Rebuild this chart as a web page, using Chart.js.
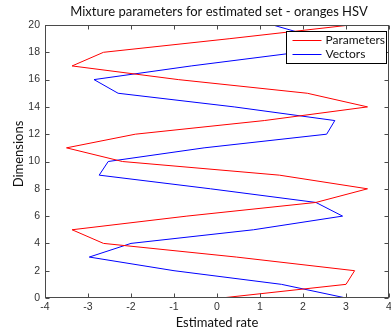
<!DOCTYPE html>
<html><head><meta charset="utf-8">
<script src="https://cdn.jsdelivr.net/npm/chart.js@4.4.1/dist/chart.umd.min.js"></script>
<style>
html,body{margin:0;padding:0;background:#fff;overflow:hidden;width:391px;height:335px}
#wrap{position:relative;width:400px;height:335px}
canvas{display:block}
</style></head><body>
<div id="wrap"><canvas id="c" width="400" height="335"></canvas></div>
<script>
const chartTitle = 'Mixture parameters for estimated set - oranges HSV';
const xTitle = 'Estimated rate';
const yTitle = 'Dimensions';
const dimensions = [0,1,2,3,4,5,6,7,8,9,10,11,12,13,14,15,16,17,18,19,20];
const parameters = [0.1,3.0,3.2,0.45,-2.64,-3.37,-0.7,2.3,3.5,1.45,-2.2,-3.5,-1.9,1.1,3.5,2.1,-0.9,-3.37,-2.64,0.3,3.1];
const vectors = [3.0,1.5,-1.0,-2.97,-2.0,0.85,2.92,2.3,-0.15,-2.74,-2.53,-0.3,2.55,2.74,0.4,-2.3,-2.86,-0.6,1.9,2.4,1.3];
const xTicks = [-4,-3,-2,-1,0,1,2,3,4];
const yTicks = [0,2,4,6,8,10,12,14,16,18,20];
const seriesNames = ['Parameters','Vectors'];
const seriesColors = ['#ff0000','#0000ff'];

const matlabPlugin = {
  id: 'matlab',
  afterDraw(chart) {
    const {ctx, chartArea: a, scales: {x, y}} = chart;
    ctx.save();
    // box
    const L = Math.round(a.left) + 0.5, R = Math.round(a.right) - 0.5;
    const T = Math.round(a.top) + 0.5, B = Math.round(a.bottom) - 0.5;
    ctx.strokeStyle = '#4a4a4a';
    ctx.lineWidth = 1;
    ctx.strokeRect(L, T, R - L, B - T);
    ctx.beginPath();
    x.ticks.forEach(t => {
      const p = Math.round(x.getPixelForValue(t.value)) + 0.5;
      ctx.moveTo(p, B); ctx.lineTo(p, B - 4);
      ctx.moveTo(p, T); ctx.lineTo(p, T + 4);
    });
    y.ticks.forEach(t => {
      const p = Math.round(y.getPixelForValue(t.value)) + 0.5;
      ctx.moveTo(L, p); ctx.lineTo(L + 4, p);
      ctx.moveTo(R, p); ctx.lineTo(R - 4, p);
    });
    ctx.stroke();
    // title
    ctx.fillStyle = '#111';
    ctx.font = '13px Lato';
    ctx.textAlign = 'center';
    ctx.textBaseline = 'middle';
    ctx.fillText(chartTitle, (a.left + a.right) / 2 + 2, 12);
    // y axis title
    ctx.save();
    ctx.translate(19, 154);
    ctx.rotate(-Math.PI / 2);
    ctx.fillText(yTitle, 0, 0);
    ctx.restore();
    // legend
    const lw = 100, lh = 32;
    const lx = Math.round(a.right) - 103 + 0.5, ly = Math.round(a.top) + 6 + 0.5;
    ctx.fillStyle = '#fff';
    ctx.fillRect(lx, ly, lw, lh);
    ctx.strokeStyle = '#000';
    ctx.strokeRect(lx, ly, lw, lh);
    ctx.font = '12px Lato';
    ctx.textAlign = 'left';
    chart.data.datasets.forEach((ds, i) => {
      const yy = Math.round(ly + 8.5 + i * 14.3) + 0.5;
      ctx.strokeStyle = ds.borderColor;
      ctx.beginPath();
      ctx.moveTo(lx + 6, yy); ctx.lineTo(lx + 35, yy);
      ctx.stroke();
      ctx.fillStyle = '#111';
      ctx.fillText(ds.label, lx + 39, yy);
    });
    ctx.restore();
  }
};

new Chart(document.getElementById('c'), {
  type: 'line',
  data: {
    datasets: [
      { label: seriesNames[0], data: dimensions.map((d, i) => ({x: parameters[i], y: d})),
        borderColor: seriesColors[0], borderWidth: 1, pointRadius: 0, tension: 0, fill: false },
      { label: seriesNames[1], data: dimensions.map((d, i) => ({x: vectors[i], y: d})),
        borderColor: seriesColors[1], borderWidth: 1, pointRadius: 0, tension: 0, fill: false }
    ]
  },
  options: {
    responsive: false,
    animation: false,
    devicePixelRatio: 1,
    layout: { padding: { top: 25, right: 11, left: 0, bottom: 0 } },
    plugins: { legend: { display: false }, title: { display: false }, tooltip: { enabled: false } },
    scales: {
      x: {
        type: 'linear', min: -4, max: 4,
        afterBuildTicks: s => { s.ticks = xTicks.map(v => ({value: v})); },
        afterFit: s => { s.height = 37; },
        grid: { display: false, drawTicks: false, tickLength: 0 }, border: { display: false },
        ticks: { padding: 3, color: '#333', font: { family: 'Liberation Sans', size: 10.5 }, maxRotation: 0 },
        title: { display: true, text: xTitle, color: '#111', font: { family: 'Lato', size: 13 }, padding: { top: 0, bottom: 4 } }
      },
      y: {
        type: 'linear', min: 0, max: 20,
        afterBuildTicks: s => { s.ticks = yTicks.map(v => ({value: v})); },
        afterFit: s => { s.width = 45; },
        grid: { display: false, drawTicks: false, tickLength: 0 }, border: { display: false },
        ticks: { padding: 5, color: '#333', font: { family: 'Liberation Sans', size: 10.5 } },
        title: { display: false }
      }
    }
  },
  plugins: [matlabPlugin]
});
</script>
</body></html>
